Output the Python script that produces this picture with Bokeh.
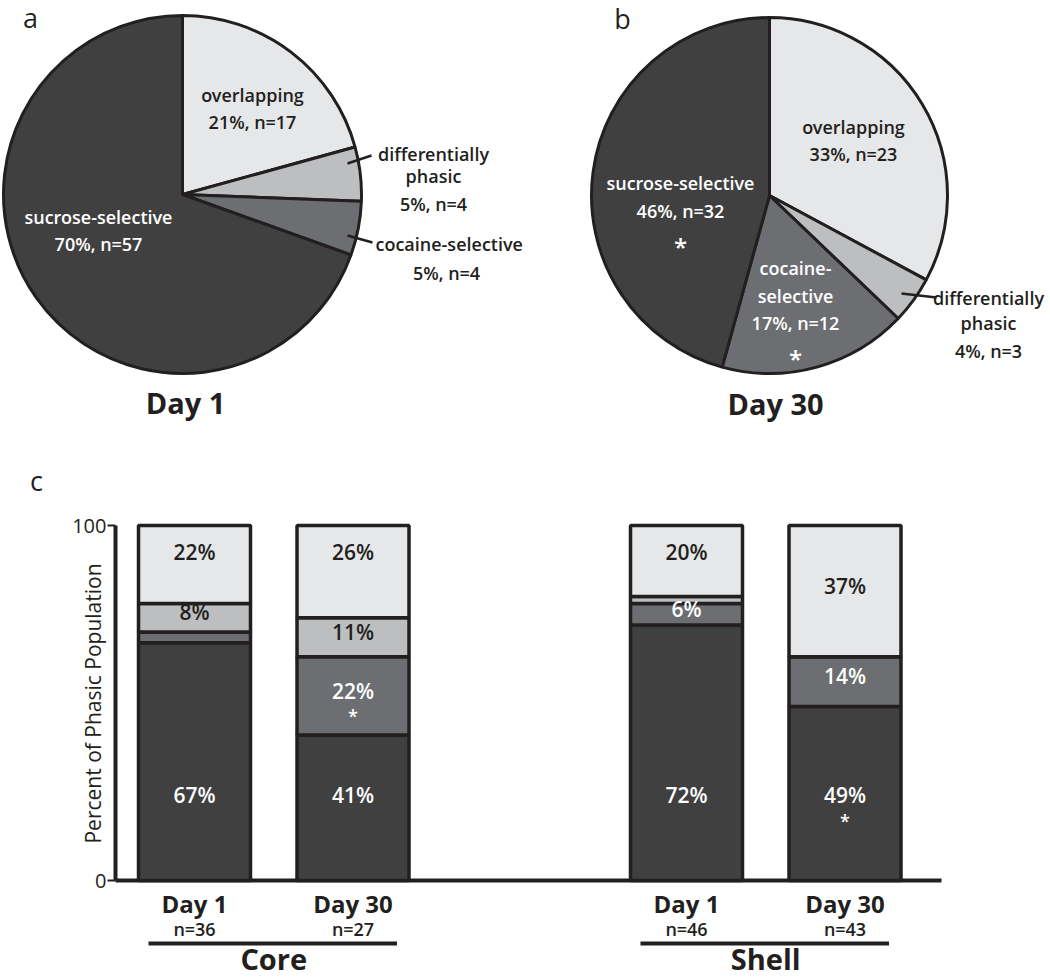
import math
from bokeh.plotting import figure
from bokeh.layouts import column
from bokeh.models import Range1d, FixedTicker
from bokeh.core.properties import value
from bokeh.embed import file_html
from bokeh.resources import INLINE

# ---------------- data ----------------
pie_categories = ["overlapping", "differentially phasic", "cocaine-selective", "sucrose-selective"]
day1_counts = [17, 4, 4, 57]
day1_percent = [21, 5, 5, 70]
day30_counts = [23, 3, 12, 32]
day30_percent = [33, 4, 17, 46]

bar_regions = ["Core", "Core", "Shell", "Shell"]
bar_days = ["Day 1", "Day 30", "Day 1", "Day 30"]
bar_n = [36, 27, 46, 43]
sucrose_pct = [67, 41, 72, 49]
cocaine_pct = [3, 22, 6, 14]
diffphasic_pct = [8, 11, 2, 0]
overlapping_pct = [22, 26, 20, 37]
sucrose_sig = [False, False, False, True]
cocaine_sig = [False, True, False, False]
y_ticks = [0, 100]
y_label = "Percent of Phasic Population"

# ---------------- style ----------------
COLORS = {
    "overlapping": "#e6e7e8",
    "differentially phasic": "#bcbec0",
    "cocaine-selective": "#6d6e71",
    "sucrose-selective": "#404041",
}
INK = "#231f20"
WHITE = "#ffffff"
FONT = value("Open Sans")
FONT_SB = value("Open Sans SemiBold, Open Sans")
W = 1050


def txt(p, x, y, s, size, color=INK, style="normal", align="center", baseline="middle",
        font=FONT_SB, angle=0):
    p.text(x=[x], y=[y], text=[s], text_font=font, text_font_size=f"{size}px",
           text_color=color, text_font_style=style, text_align=align, text_baseline=baseline,
           angle=angle)


# ---------------- pies (top figure, data coords = screen px, y negated) ----------------
TOP_H = 500
top = figure(width=W, height=TOP_H, x_range=Range1d(0, W), y_range=Range1d(-TOP_H, 0),
             output_backend="svg", toolbar_location=None,
             x_axis_location=None, y_axis_location=None, min_border=0)
top.outline_line_color = None
top.grid.visible = False
top.background_fill_color = "white"
top.border_fill_color = "white"


def draw_pie(p, cx, cy, r, counts):
    total = sum(counts)
    cum = 0
    starts, ends = [], []
    for c in counts:
        starts.append(math.pi / 2 - 2 * math.pi * cum / total)
        cum += c
        ends.append(math.pi / 2 - 2 * math.pi * cum / total)
    p.wedge(x=cx, y=-cy, radius=r, start_angle=starts, end_angle=ends, direction="clock",
            fill_color=[COLORS[k] for k in pie_categories], line_color=INK, line_width=3)


draw_pie(top, 182, 194, 179, day1_counts)
draw_pie(top, 769, 195, 178, day30_counts)


def lbl(pct, n):
    return f"{pct}%, n={n}"


S = 18
# Day 1 pie labels
txt(top, 252, -94, pie_categories[0], S)
txt(top, 252, -121, lbl(day1_percent[0], day1_counts[0]), S)
top.segment(x0=[347], y0=[-163], x1=[371], y1=[-155], line_color=INK, line_width=2.5)
txt(top, 433, -153, "differentially", S)
txt(top, 433, -175, "phasic", S)
txt(top, 433, -203, lbl(day1_percent[1], day1_counts[1]), S)
top.segment(x0=[347], y0=[-235], x1=[372], y1=[-242], line_color=INK, line_width=2.5)
txt(top, 375, -243, pie_categories[2], S, align="left")
txt(top, 446, -272, lbl(day1_percent[2], day1_counts[2]), S)
txt(top, 98, -216, pie_categories[3], S, color=WHITE)
txt(top, 98, -243, lbl(day1_percent[3], day1_counts[3]), S, color=WHITE)

# Day 30 pie labels
txt(top, 853, -126, pie_categories[0], S)
txt(top, 853, -153, lbl(day30_percent[0], day30_counts[0]), S)
txt(top, 680, -182, pie_categories[3], S, color=WHITE)
txt(top, 680, -210, lbl(day30_percent[3], day30_counts[3]), S, color=WHITE)
txt(top, 680, -246, "*", 24, color=WHITE)
txt(top, 795, -267, "cocaine-", S, color=WHITE)
txt(top, 795, -295, "selective", S, color=WHITE)
txt(top, 795, -322, lbl(day30_percent[2], day30_counts[2]), S, color=WHITE)
txt(top, 795, -358, "*", 24, color=WHITE)
top.segment(x0=[901], y0=[-293], x1=[936], y1=[-297], line_color=INK, line_width=2.5)
txt(top, 988, -297, "differentially", S)
txt(top, 988, -322, "phasic", S)
txt(top, 988, -350, lbl(day30_percent[1], day30_counts[1]), S)

txt(top, 185, -402, "Day 1", 29, style="bold", font=FONT)
txt(top, 775, -403, "Day 30", 29, style="bold", font=FONT)
txt(top, 30, -17, "a", 27, font=FONT)
txt(top, 622, -18, "b", 27, font=FONT)
txt(top, 36, -480, "c", 27, font=FONT)

# ---------------- stacked bars (bottom figure) ----------------
SCALE = 3.55  # px per percent
BAR_TOP = TOP_H
BAR_H = 980 - TOP_H
AXIS_X = 115
LEFT = 70


def sy(v):
    return (880 - v) / SCALE


bar = figure(width=W, height=BAR_H, x_range=Range1d(LEFT, W), y_range=Range1d(sy(980), sy(BAR_TOP)),
             output_backend="svg", toolbar_location=None, x_axis_location=None,
             min_border_left=LEFT, min_border_right=0, min_border_top=0, min_border_bottom=0)
bar.outline_line_color = None
bar.grid.visible = False
bar.background_fill_color = "white"
bar.border_fill_color = "white"

for f in (top, bar):
    if "frame_align" in f.properties():
        f.frame_align = False

ax = bar.yaxis[0]
ax.fixed_location = AXIS_X
ax.ticker = FixedTicker(ticks=y_ticks)
ax.bounds = (0, 100)
ax.axis_line_width = 4
ax.axis_line_color = INK
ax.major_tick_out = 8
ax.major_tick_in = 0
ax.major_tick_line_width = 2
ax.major_tick_line_color = INK
ax.minor_tick_line_color = None
ax.major_label_standoff = 1
ax.major_label_text_font = "Open Sans"
ax.major_label_text_font_size = "20px"
ax.major_label_text_color = INK

txt(bar, 92, sy(703), y_label, 21, font=FONT, angle=math.pi / 2)

group_of = {g: i for i, g in enumerate(dict.fromkeys(bar_regions))}
xs = []
seen = {}
for reg in bar_regions:
    j = seen.get(reg, 0)
    xs.append(194 + group_of[reg] * 492 + j * 158.5)
    seen[reg] = j + 1

BW = 112
segments = [
    ("sucrose-selective", sucrose_pct, WHITE, sucrose_sig),
    ("cocaine-selective", cocaine_pct, WHITE, cocaine_sig),
    ("differentially phasic", diffphasic_pct, INK, [False] * 4),
    ("overlapping", overlapping_pct, INK, [False] * 4),
]

bar.segment(x0=[AXIS_X], y0=[0], x1=[941], y1=[0], line_color=INK, line_width=4)

base = [0] * len(xs)
labels = []
for name, vals, tcolor, sig in segments:
    tops = [b + v for b, v in zip(base, vals)]
    bar.vbar(x=xs, width=BW, bottom=base, top=tops, fill_color=COLORS[name],
             line_color=INK, line_width=3.5)
    for i, (b, v) in enumerate(zip(base, vals)):
        if v < 5:
            continue
        if name == "sucrose-selective":
            ty = 24
        elif name == "overlapping" and v < 30:
            ty = b + v - 7.5
        else:
            ty = b + v / 2 + 1.5
        labels.append((xs[i], ty, f"{v}%", tcolor, sig[i]))
    base = tops

for x, ty, s, tcolor, is_sig in labels:
    txt(bar, x, ty, s, 21, color=tcolor)
    if is_sig:
        txt(bar, x, ty - 7.2, "*", 18, color=tcolor)

for i, x in enumerate(xs):
    txt(bar, x, sy(903), bar_days[i], 24, style="bold", font=FONT)
    txt(bar, x, sy(928), f"n={bar_n[i]}", 18)

for reg, gi in group_of.items():
    gx = [x for x, r in zip(xs, bar_regions) if r == reg]
    bar.segment(x0=[min(gx) - 46], y0=[sy(943)], x1=[max(gx) + 44], y1=[sy(943)],
                line_color=INK, line_width=4)
    txt(bar, sum(gx) / len(gx), sy(958), reg, 29, style="bold", font=FONT)

layout = column(top, bar, spacing=0)
open("out.html", "w").write(file_html(layout, INLINE))
